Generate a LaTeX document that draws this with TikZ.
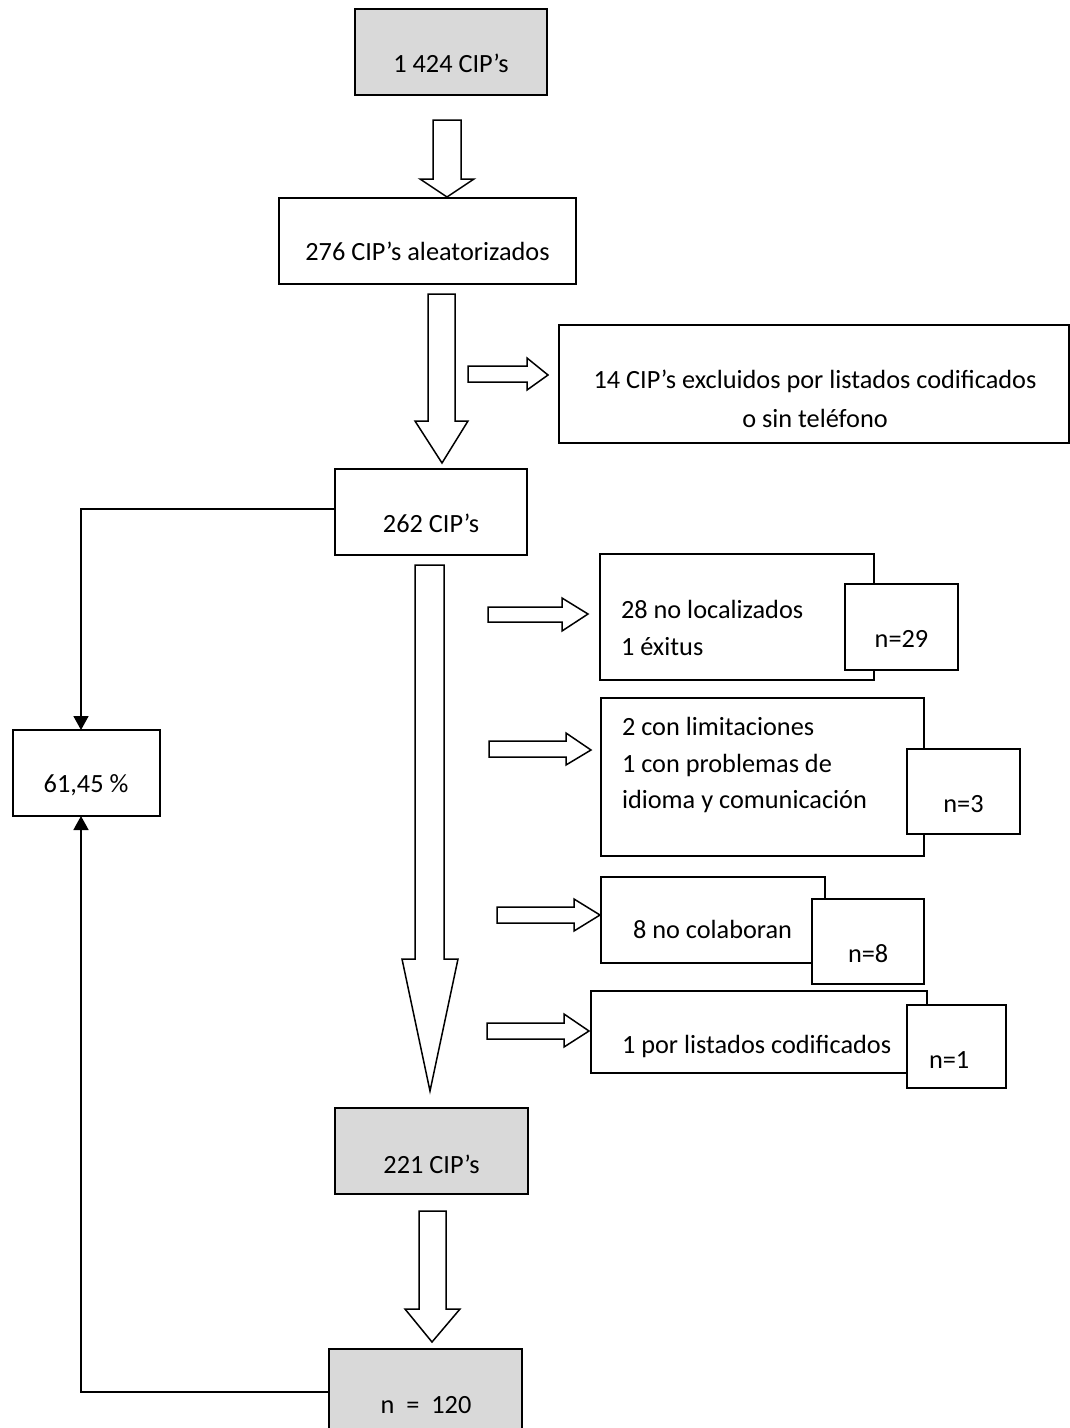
\documentclass[tikz,border=0pt]{standalone}
\usepackage{fontspec}
\setmainfont{Carlito}
\usetikzlibrary{arrows.meta}
\definecolor{boxgray}{HTML}{D9D9D9}
\newcommand\boxat[6]{\node[#6, minimum width={#4pt-#2pt}, minimum height={#5pt-#3pt}] (#1) at ({(#2+#4)/2},{(#3+#5)/2}) {};}
\newcommand\downblock[8]{\draw[blk] (#1,#3) -- (#1,#4) -- (#5,#4) -- (#7,#8) -- (#6,#4) -- (#2,#4) -- (#2,#3) -- cycle;}
\newcommand\rightblock[8]{\draw[blk] (#1,#3) -- (#2,#3) -- (#2,#5) -- (#7,#8) -- (#2,#6) -- (#2,#4) -- (#1,#4) -- cycle;}
\begin{document}
\begin{tikzpicture}[x=1pt,y=-1pt,
  box/.style={draw=black, fill=white, line width=1.9pt, inner sep=0pt, outer sep=0pt, rectangle},
  graybox/.style={box, fill=boxgray},
  txt/.style={inner sep=0pt, outer sep=0pt, font=\fontsize{26.3}{37}\selectfont},
  blk/.style={draw=black, fill=white, line width=1.5pt, line join=miter},
  conn/.style={draw=black, line width=1.7pt, -{Triangle[width=15pt,length=14pt]}}]
\useasboundingbox (0,0) rectangle (1070,1428);
\clip (0,0) rectangle (1070,1428);
% main boxes
\boxat{b1424}{355}{9}{547}{95}{graybox}
\boxat{b276}{279}{198}{576}{284}{box}
\boxat{b14}{559}{325}{1069}{443}{box}
\boxat{b262}{335}{469}{527}{555}{box}
\boxat{b28}{600}{554}{874}{680}{box}
\boxat{n29}{845}{584}{958}{670}{box}
\boxat{b2con}{601}{698}{924}{856}{box}
\boxat{n3}{907}{749}{1020}{834}{box}
\boxat{b8}{601}{877}{825}{963}{box}
\boxat{n8}{812}{899}{924}{984}{box}
\boxat{b1por}{591}{991}{927}{1073}{box}
\boxat{n1}{907}{1005}{1006}{1088}{box}
\boxat{b221}{335}{1108}{528}{1194}{graybox}
\boxat{b120}{329}{1349}{522}{1450}{graybox}
\boxat{b61}{13}{730}{160}{816}{box}
% texts
\node[txt, anchor=base] (t1424) at (451,72) {1 424 CIP’s};
\node[txt, anchor=base] (t276) at (427.5,260) {276 CIP’s aleatorizados};
\node[txt, anchor=base] (t14a) at (815,388) {14 CIP’s excluidos por listados codificados};
\node[txt, anchor=base] (t14b) at (815,427) {o sin teléfono};
\node[txt, anchor=base] (t262) at (431,532) {262 CIP’s};
\node[txt, anchor=base west] (t28a) at (621,618) {28 no localizados};
\node[txt, anchor=base west] (t28b) at (621,655) {1 éxitus};
\node[txt, anchor=base] (tn29) at (901.5,647) {n=29};
\node[txt, anchor=base west] (t2a) at (622,735) {2 con limitaciones};
\node[txt, anchor=base west] (t2b) at (622,772) {1 con problemas de};
\node[txt, anchor=base west] (t2c) at (622,808) {idioma y comunicación};
\node[txt, anchor=base] (tn3) at (963.5,812) {n=3};
\node[txt, anchor=base west] (t8) at (633,938) {8 no colaboran};
\node[txt, anchor=base west] (tn8) at (848,962) {n=8};
\node[txt, anchor=base west] (t1por) at (622,1053) {1 por listados codificados};
\node[txt, anchor=base west] (tn1) at (929,1068) {n=1};
\node[txt, anchor=base] (t221) at (431.5,1173) {221 CIP’s};
\node[txt, anchor=base] (t120) at (426,1413) {n\ \ =\ \ 120};
\node[txt, anchor=base] (t61) at (86,792) {61,45 \%};
% block arrows (down)
\downblock{433}{461}{120}{179}{420}{474}{447}{197}
\downblock{428}{455}{294}{421}{415}{468}{442}{463}
\downblock{415}{444}{565}{959}{402}{458}{430}{1091}
\downblock{419}{446}{1211}{1309}{405}{460}{432}{1342}
% block arrows (right)
\rightblock{468}{527}{366}{382}{358}{390}{548}{375}
\rightblock{488}{562}{607}{622}{598}{631}{588}{614}
\rightblock{489}{566}{741}{757}{733}{765}{591}{750}
\rightblock{497}{574}{907}{923}{899}{931}{600}{915}
\rightblock{487}{564}{1023}{1039}{1014}{1047}{589}{1031}
% connectors
\draw[conn] ([yshift=3pt]b262.west) -| ([xshift=-5.5pt]b61.north);
\draw[conn] ([yshift=7.5pt]b120.west) -| ([xshift=-5.5pt]b61.south);
\end{tikzpicture}
\end{document}
